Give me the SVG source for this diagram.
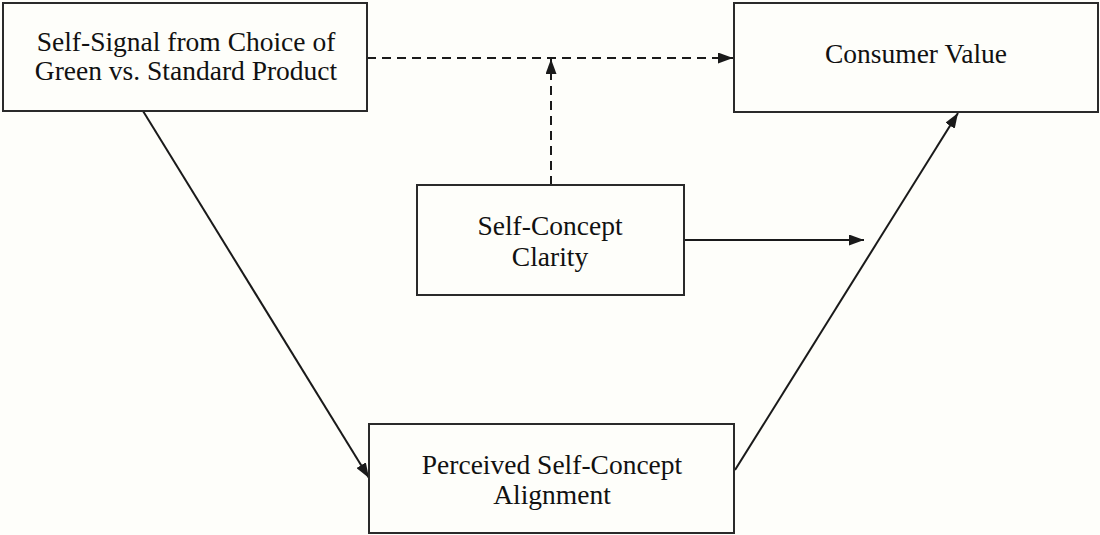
<svg xmlns="http://www.w3.org/2000/svg" width="1100" height="535" viewBox="0 0 1100 535">
<style>
.box{fill:#fefefa;stroke:#2a2a2a;stroke-width:2}
.t{font-family:"Liberation Serif","Times New Roman",Times,"DejaVu Serif",serif;font-size:27.5px;fill:#111;text-anchor:middle}
.c{stroke:#1a1a1a;stroke-width:2;fill:none}
.d{stroke-dasharray:9,6}
</style>
<defs>
<marker id="ah" viewBox="0 0 15 11" refX="15" refY="5.5" markerWidth="15" markerHeight="11" markerUnits="userSpaceOnUse" orient="auto">
<path d="M0,0 L15,5.5 L0,11 Z" fill="#1a1a1a"/>
</marker>
</defs>
<rect width="1100" height="535" fill="#fefefa"/>
<g id="connectors">
<line class="c d" x1="367" y1="58" x2="733" y2="58" marker-end="url(#ah)"/>
<line class="c d" x1="551" y1="185" x2="551" y2="59" marker-end="url(#ah)"/>
<line class="c" x1="684" y1="240" x2="864" y2="240" marker-end="url(#ah)"/>
<line class="c" x1="143" y1="111" x2="369" y2="478" marker-end="url(#ah)"/>
<line class="c" x1="735" y1="470" x2="958" y2="113" marker-end="url(#ah)"/>
</g>
<g id="node-self-signal">
<rect class="box" x="3" y="3" width="364" height="108"/>
<text class="t" x="186" y="51">Self-Signal from Choice of</text>
<text class="t" x="186" y="80">Green vs. Standard Product</text>
</g>
<g id="node-consumer-value">
<rect class="box" x="734" y="3" width="364" height="109"/>
<text class="t" x="916" y="63">Consumer Value</text>
</g>
<g id="node-clarity">
<rect class="box" x="417" y="185" width="267" height="110"/>
<text class="t" x="550" y="235">Self-Concept</text>
<text class="t" x="550" y="266">Clarity</text>
</g>
<g id="node-alignment">
<rect class="box" x="369" y="424" width="365" height="109"/>
<text class="t" x="552" y="474">Perceived Self-Concept</text>
<text class="t" x="552" y="504">Alignment</text>
</g>
</svg>
